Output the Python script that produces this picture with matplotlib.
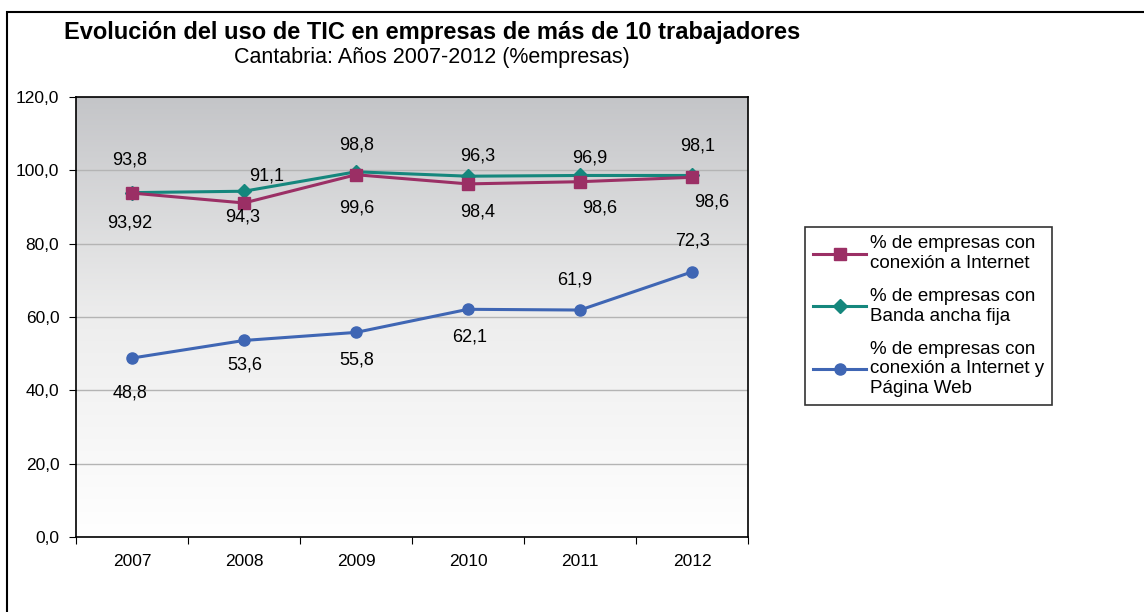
import numpy as np
import matplotlib.pyplot as plt
from matplotlib.patches import Rectangle

plt.rcParams['font.family'] = ['Liberation Sans', 'DejaVu Sans']

# data
years = ['2007', '2008', '2009', '2010', '2011', '2012']
internet = [93.8, 91.1, 98.8, 96.3, 96.9, 98.1]
banda_ancha = [93.92, 94.3, 99.6, 98.4, 98.6, 98.6]
pagina_web = [48.8, 53.6, 55.8, 62.1, 61.9, 72.3]

series_names = ['% de empresas con\nconexión a Internet',
                '% de empresas con\nBanda ancha fija',
                '% de empresas con\nconexión a Internet y\nPágina Web']
yticks = [0, 20, 40, 60, 80, 100, 120]

# where each data label sits, relative to its point (pixels)
off_internet = [(-2, 33), (23, 27), (1, 30), (10, 28), (10, 24), (6, 31)]
off_banda = [(-2, -30), (-1, -26), (1, -36), (10, -36), (20, -33), (20, -27)]
off_web = [(-2, -35), (1, -25), (1, -28), (2, -28), (-5, 30), (0, 31)]

fig = plt.figure(figsize=(11.44, 6.12), dpi=100)

# outer frame (cropped image: top and left edge visible)
fig.patches.append(Rectangle((7 / 1144, -0.1), 1.2, (612 - 12) / 612 + 0.1,
                             transform=fig.transFigure, fill=False,
                             edgecolor='black', linewidth=1.5))

ax = fig.add_axes([76 / 1144, (612 - 537) / 612, 672 / 1144, 440 / 612])

# gray to white gradient behind the plot
grad = np.linspace(0, 1, 256).reshape(-1, 1)
cmap = plt.matplotlib.colors.LinearSegmentedColormap.from_list(
    'bg', ['#ffffff', '#ededed', '#c4c5c8'])
ax.imshow(grad, aspect='auto', cmap=cmap, origin='lower',
          extent=[0, 1, 0, 1], transform=ax.transAxes, zorder=0)

x = np.arange(len(years))
ax.plot(x, internet, color='#9b2f65', lw=2.2, marker='s', ms=8, zorder=4,
        label=series_names[0])
ax.plot(x, banda_ancha, color='#15877d', lw=2.2, marker='D', ms=7.5, zorder=3,
        label=series_names[1])
ax.plot(x, pagina_web, color='#3f66b4', lw=2.2, marker='o', ms=8, zorder=3,
        label=series_names[2])

def fmt(v):
    return ('%g' % v).replace('.', ',')

for vals, offs in [(internet, off_internet), (banda_ancha, off_banda),
                   (pagina_web, off_web)]:
    for xi, v, (dx, dy) in zip(x, vals, offs):
        ax.annotate(fmt(v), (xi, v), xytext=(dx, dy),
                    textcoords='offset pixels', ha='center', va='center',
                    fontsize=13, zorder=5)

ax.set_xlim(-0.5, len(years) - 0.5)
ax.set_ylim(0, 120)
ax.set_yticks(yticks)
ax.set_yticklabels(['%d,0' % t for t in yticks], fontsize=12.5)
ax.yaxis.grid(True, color='#b4b4b4', lw=1)
for gl in ax.get_ygridlines():
    gl.set_zorder(1)

ax.set_xticks(np.arange(-0.5, len(years)))
ax.set_xticklabels([])
ax.set_xticks(x, minor=True)
ax.set_xticklabels(years, minor=True, fontsize=12.5)
ax.tick_params(axis='x', which='minor', length=0, pad=12)
ax.tick_params(axis='x', which='major', length=5, direction='out')
ax.tick_params(axis='y', length=5, direction='out', pad=7)
for s in ax.spines.values():
    s.set_linewidth(1.2)

fig.text(432 / 1144, 1 - 32 / 612, 'Evolución del uso de TIC en empresas de más de 10 trabajadores',
         ha='center', va='center', fontsize=17, fontweight='bold')
fig.text(432 / 1144, 1 - 57 / 612, 'Cantabria: Años 2007-2012 (%empresas)',
         ha='center', va='center', fontsize=15.5)

leg = fig.legend(loc='upper left', bbox_to_anchor=(805 / 1144, 1 - 227 / 612),
                 fontsize=13.5, frameon=True, fancybox=False, edgecolor='black',
                 handlelength=2.8, labelspacing=0.85, borderpad=0.45,
                 handletextpad=0.2, borderaxespad=0)
leg.get_frame().set_linewidth(1.2)
for t in leg.get_texts():
    t.set_linespacing(1.2)

fig.savefig('out.png', dpi=100)
